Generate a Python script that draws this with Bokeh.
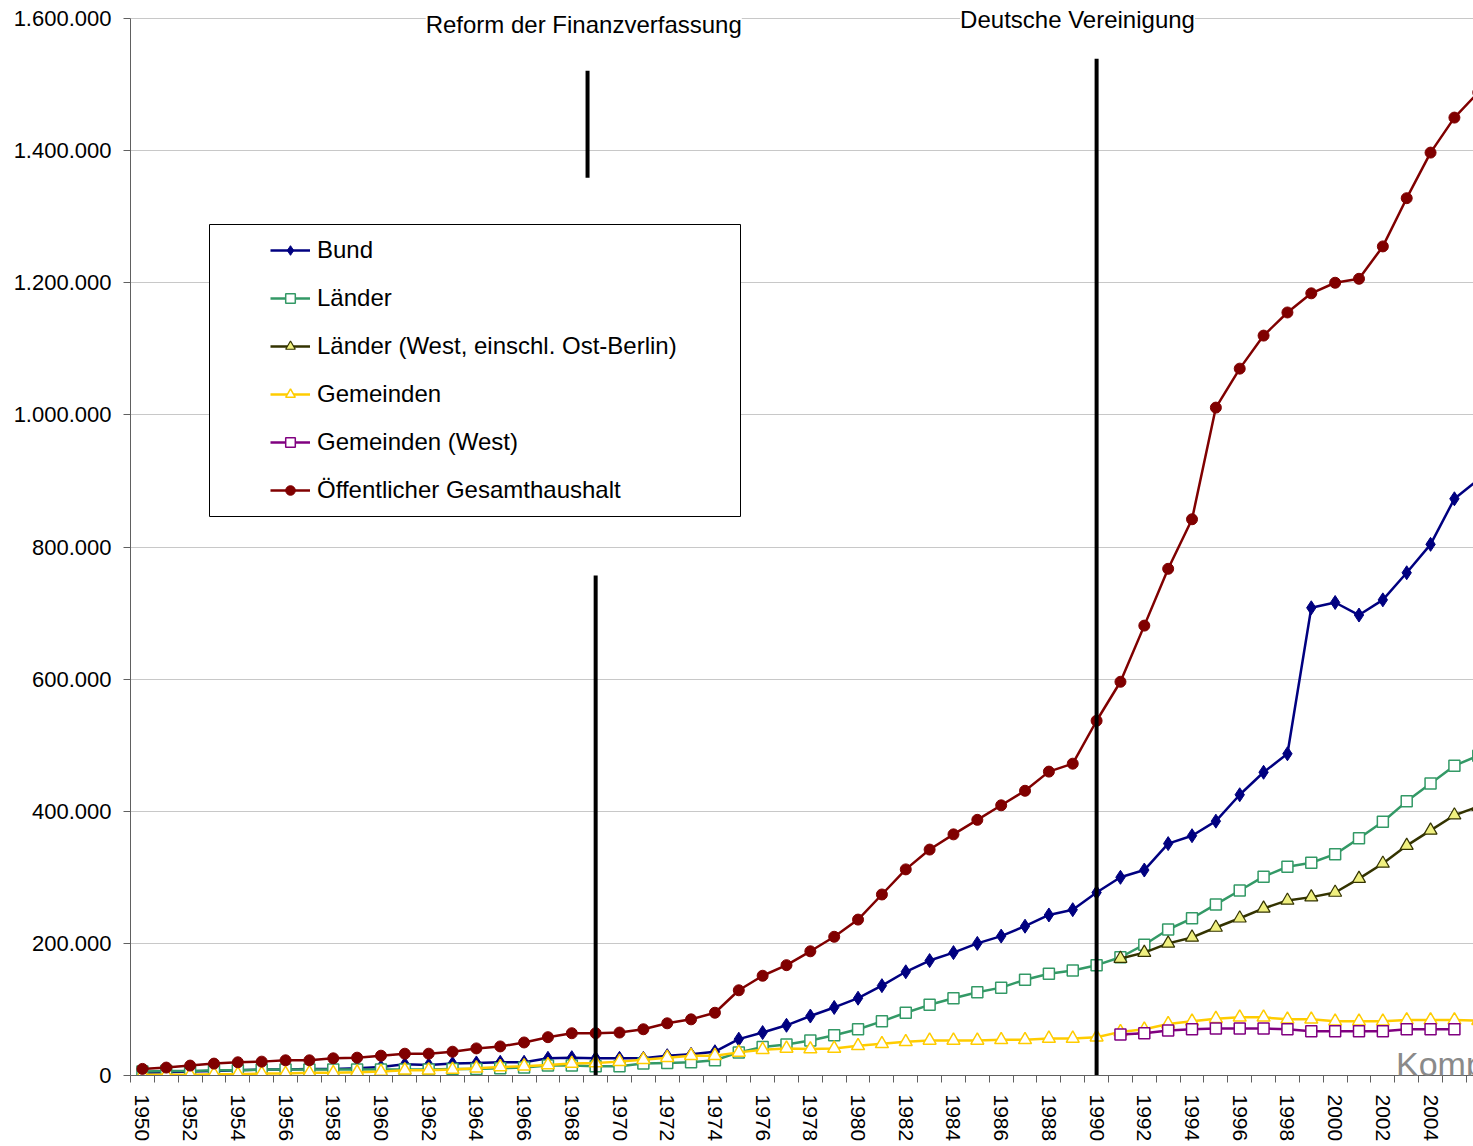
import math
from bokeh.plotting import figure
from bokeh.models import (Range1d, FixedTicker, Legend, LegendItem, Label,
                          BoxAnnotation)
from bokeh.embed import file_html
from bokeh.resources import INLINE

# ---------------- data (Mrd. Euro, shown on the axis in Mio. Euro) ----------------
years = list(range(1950, 2007))

bund = [4, 5, 6, 7, 8, 9, 9, 10, 10, 11,
        13, 17, 16, 18, 19, 20, 20, 26, 27, 26,
        26, 26, 30, 32, 36, 55, 65, 76, 90, 103,
        117, 136, 157, 174, 186, 200, 211, 226, 243, 251,
        277, 300, 311, 351, 363, 385, 425, 459, 487, 708,
        716, 697, 720, 761, 804, 873, 902]

laender = [6, 7, 7, 8, 8, 9, 9, 9, 9, 9,
           9, 9, 9, 10, 10, 11, 12, 15, 15, 14,
           14, 18, 19, 20, 23, 35, 43, 47, 53, 61,
           70, 82, 95, 107, 117, 126, 133, 145, 154, 159,
           167, 179, 198, 221, 238, 259, 280, 301, 316, 322,
           335, 359, 384, 415, 442, 469, 484]

gemeinden = [1, 1, 1, 2, 2, 3, 3, 4, 4, 5,
             6, 8, 8, 9, 11, 13, 14, 16, 18, 19,
             21, 24, 27, 30, 30, 35, 39, 41, 40, 41,
             45, 48, 51, 53, 53, 53, 54, 54, 56, 56,
             58, 66, 70, 78, 82, 86, 88, 88, 85, 85,
             82, 82, 82, 84, 84, 84, 83]

oeffentlich = [10, 12, 15, 18, 20, 21, 23, 23, 26, 27,
               30, 33, 33, 36, 41, 44, 50, 58, 64, 64,
               65, 70, 79, 85, 95, 129, 151, 167, 188, 210,
               236, 274, 312, 342, 365, 387, 409, 431, 460, 472,
               537, 596, 681, 767, 842, 1011, 1070, 1120, 1155, 1184,
               1200, 1206, 1255, 1328, 1397, 1450, 1488]

years_laender_west = list(range(1991, 2007))
laender_west = [177, 186, 200, 209, 224, 238, 253, 265, 270, 277,
                298, 321, 348, 371, 394, 407]

years_gemeinden_west = list(range(1991, 2006))
gemeinden_west = [62, 64, 68, 70, 71, 71, 71, 70, 67, 67, 67, 67, 70, 70, 70]

series_names = ["Bund", "Länder", "Länder (West, einschl. Ost-Berlin)",
                "Gemeinden", "Gemeinden (West)", "Öffentlicher Gesamthaushalt"]

y_ticks = [0, 200000, 400000, 600000, 800000, 1000000, 1200000, 1400000, 1600000]
y_tick_labels = ["0", "200.000", "400.000", "600.000", "800.000",
                 "1.000.000", "1.200.000", "1.400.000", "1.600.000"]
x_label_years = list(range(1950, 2007, 2))

# event markers (vertical bars) and their captions
event_x0 = [1968.66, 1969.0, 1990.0]
event_y0 = [1359000, 0, 0]
event_y1 = [1521000, 757000, 1539000]
event_texts = ["Reform der Finanzverfassung", "Deutsche Vereinigung"]
event_text_x = [1968.5, 1989.2]
event_text_y = [1591000, 1598500]

SCALE = 1000  # Mrd -> Mio
Y_MAX = 1600000
Y_TOP = 1627247   # a little headroom above the top gridline for the captions

FONT = "Liberation Sans"

p = figure(width=1473, height=1146, output_backend="svg", toolbar_location=None,
           x_range=Range1d(1949.5, 2005.8), y_range=Range1d(0, Y_TOP),
           min_border_left=130, min_border_right=0, min_border_top=0,
           min_border_bottom=71)
p.outline_line_color = None
p.background_fill_color = "white"
p.border_fill_color = "white"

# grid
p.xgrid.visible = False
p.ygrid.ticker = FixedTicker(ticks=y_ticks)
p.ygrid.grid_line_color = "#c8c8c8"
p.ygrid.grid_line_width = 1

# y axis
p.yaxis.ticker = FixedTicker(ticks=y_ticks)
p.yaxis.bounds = (0, Y_MAX)
p.yaxis.major_label_overrides = {t: l for t, l in zip(y_ticks, y_tick_labels)}
p.yaxis.axis_line_color = "#606060"
p.yaxis.major_tick_line_color = "#606060"
p.yaxis.major_tick_out = 7
p.yaxis.major_tick_in = 0
p.yaxis.minor_tick_line_color = None
p.yaxis.major_label_text_font = FONT
p.yaxis.major_label_text_font_size = "22px"
p.yaxis.major_label_text_color = "black"
p.yaxis.major_label_standoff = 12

# x axis (ticks between categories, labels on every 2nd category)
p.xaxis.ticker = FixedTicker(ticks=x_label_years,
                             minor_ticks=[y - 0.5 for y in years])
p.xaxis.major_label_overrides = {y: str(y) for y in x_label_years}
p.xaxis.axis_line_color = "#606060"
p.xaxis.major_tick_out = 0
p.xaxis.major_tick_in = 0
p.xaxis.minor_tick_out = 7
p.xaxis.minor_tick_in = 0
p.xaxis.minor_tick_line_color = "#606060"
p.xaxis.major_label_orientation = -math.pi / 2
p.xaxis.major_label_standoff = 12
p.xaxis.major_label_text_font = FONT
p.xaxis.major_label_text_font_size = "21px"
p.xaxis.major_label_text_color = "black"

LW = 2.5
items = []

def add_series(name, xs, vals, line_color, marker, size, fill, mline, mlw):
    ys = [v * SCALE for v in vals]
    r1 = p.line(xs, ys, line_color=line_color, line_width=LW)
    r2 = p.scatter(xs, ys, marker=marker, size=size, fill_color=fill,
                   line_color=mline, line_width=mlw)
    items.append(LegendItem(label=name, renderers=[r1, r2]))

add_series(series_names[0], years, bund, "#000080", "diamond", 14, "#000080", "#000080", 1)
add_series(series_names[1], years, laender, "#339966", "square", 11, "white", "#339966", 1.5)
add_series(series_names[2], years_laender_west, laender_west, "#333300", "triangle", 13, "#F0F080", "#333300", 1.2)
add_series(series_names[3], years, gemeinden, "#FFCC00", "triangle", 13, "white", "#FFCC00", 1.5)
add_series(series_names[4], years_gemeinden_west, gemeinden_west, "#800080", "square", 11, "white", "#800080", 1.5)
add_series(series_names[5], years, oeffentlich, "#800000", "circle", 11, "#800000", "#800000", 1)

# event bars
p.segment(x0=event_x0, y0=event_y0, x1=event_x0, y1=event_y1,
          line_color="black", line_width=4)

for t, tx, ty in zip(event_texts, event_text_x, event_text_y):
    p.add_layout(Label(x=tx, y=ty, text=t, text_align="center",
                       text_baseline="middle", text_font=FONT,
                       text_font_size="24px", text_color="black",
                       background_fill_color="white"))

# legend frame + legend
legend_box = BoxAnnotation(left=79, right=610, bottom=559, top=851,
                           left_units="screen", right_units="screen",
                           top_units="screen", bottom_units="screen",
                           fill_color="white", fill_alpha=1.0,
                           line_color="black", line_width=1, line_alpha=1.0,
                           level="annotation")
p.add_layout(legend_box)

legend = Legend(items=items, location=(140, 571), padding=0, margin=0,
                spacing=20, glyph_width=40, glyph_height=24, label_height=24,
                label_standoff=7, label_text_font=FONT,
                label_text_font_size="24px", label_text_color="black",
                border_line_alpha=0, background_fill_alpha=0)
p.add_layout(legend)

# cropped watermark fragment at the bottom right
p.add_layout(Label(x=2002.55, y=-12000, text="Komp", text_font=FONT,
                   text_font_size="34px", text_color="#8a8a8a",
                   text_baseline="bottom"))

open("out.html", "w").write(file_html(p, INLINE))
